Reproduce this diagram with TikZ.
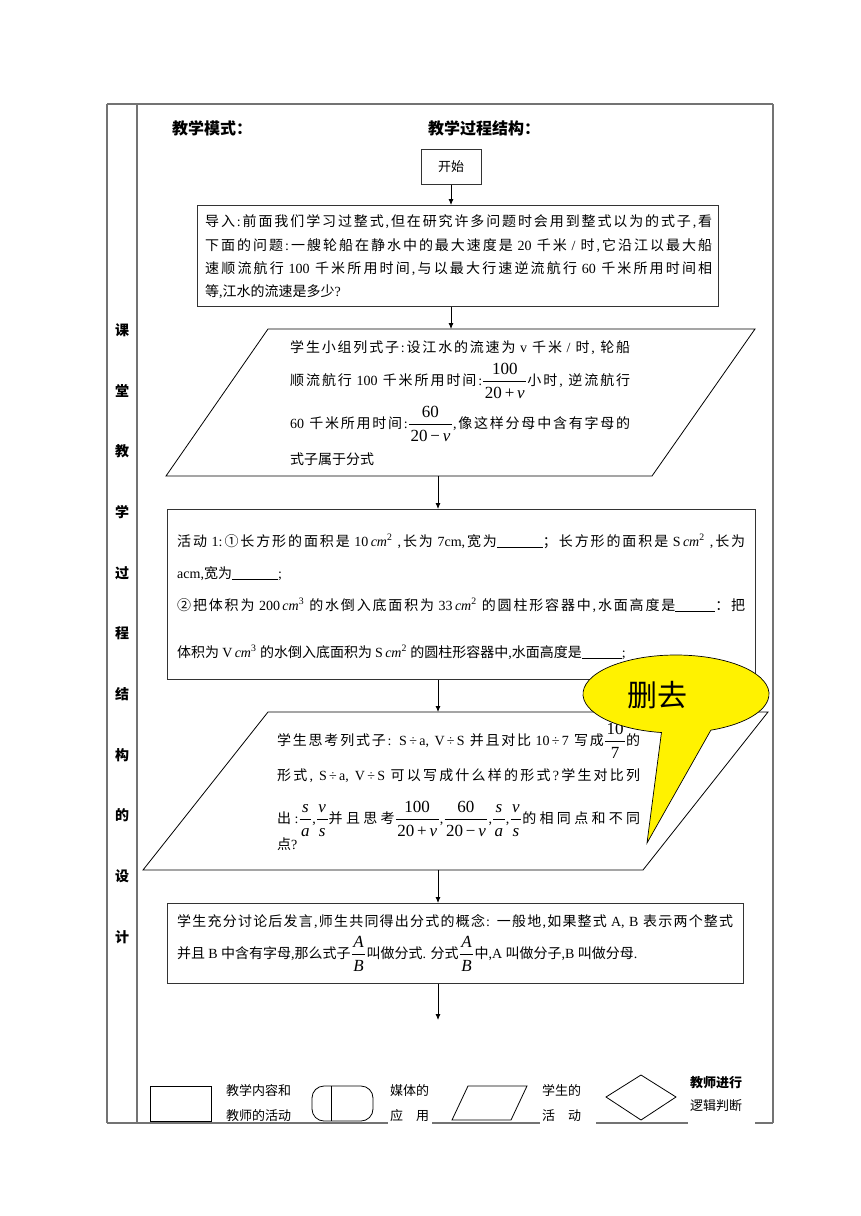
\documentclass[tikz,border=0pt]{standalone}
\usepackage{amsmath}
\usepackage[no-math]{fontspec}
\setmainfont{Liberation Serif}
\newfontfamily\cjkf{Noto Sans CJK SC}
\newfontfamily\latf{Liberation Serif}
\usetikzlibrary{arrows.meta}
% automatic switching between Latin and CJK fonts
\chardef\cjkcls=7
\def\setcls#1#2{\count255=#1 \loop\XeTeXcharclass\count255=\cjkcls\relax\ifnum\count255<#2 \advance\count255 by 1 \repeat}
\setcls{"4E00}{"9FFF}
\setcls{"3000}{"303F}
\setcls{"FF00}{"FFEF}
\setcls{"2460}{"24FF}
\def\cjkgap{\hskip0pt plus 2pt\relax}
\XeTeXinterchartoks 0 \cjkcls = {\cjkgap\cjkf}
\XeTeXinterchartoks 4095 \cjkcls = {\cjkf}
\XeTeXinterchartoks \cjkcls 0 = {\latf\cjkgap}
\XeTeXinterchartoks 4095 0 = {\latf}
\XeTeXinterchartoks \cjkcls \cjkcls = {\cjkgap}
\XeTeXinterchartokenstate=1
\newcommand\jl[2]{\hbox to #1pt{#2}}
\newcommand\blank[1]{\rule[-2pt]{#1pt}{0.6pt}}
\newcommand\frn[1]{\hbox{\kern1.5pt\fontsize{17}{19}\selectfont#1\rule[-5pt]{0pt}{5pt}\kern1.5pt}}
\newcommand\frd[1]{\hbox{\kern1.5pt\fontsize{17}{19}\selectfont#1\rule{0pt}{15pt}\kern1.5pt}}
\newcommand\fr[2]{$\dfrac{\frn{#1}}{\frd{#2}}$}
\newcommand\cmsq[1]{\textit{cm}\textsuperscript{#1}}
\begin{document}
\begin{tikzpicture}[x=1pt,y=-1pt,
  tab/.style={draw=black!55, line width=1.2pt},
  box/.style={draw=black!80, line width=1pt, inner sep=0pt, anchor=north west},
  para/.style={draw=black, line width=0.8pt},
  arr/.style={-{Latex[length=6pt,width=5pt]}, line width=0.8pt},
  txt/.style={anchor=base west, inner sep=0pt, font=\fontsize{14}{16}\selectfont},
  lg/.style={anchor=base west, inner sep=0pt, font=\fontsize{13}{15}\selectfont},
  vt/.style={inner sep=0pt, font=\fontsize{14}{16}\selectfont\bfseries},
  hd/.style={anchor=base west, inner sep=0pt, font=\fontsize{16}{18}\selectfont\bfseries},
]
\fill[white] (0,0) rectangle (860,1216);
\useasboundingbox (0,0) rectangle (860,1216);

% table frame
\draw[tab] (107,104) -- (773,104);
\draw[tab] (107,104) -- (107,1123);
\draw[tab] (137,104) -- (137,1123);
\draw[tab] (773,104) -- (773,1123);
\draw[tab] (107,1123) -- (388,1123);
\draw[tab] (432,1123) -- (540,1123);
\draw[tab] (596,1123) -- (688,1123);
\draw[tab] (755,1123) -- (773,1123);

% vertical title
\foreach \c [count=\i from 0] in {课,堂,教,学,过,程,结,构,的,设,计}
  \node[vt] (v\i) at (122,{330+60.7*\i}) {\c};

% headers
\node[hd] (h1) at (172,134) {教学模式：};
\node[hd] (h2) at (428,134) {教学过程结构：};

% start
\node[draw=black!80, line width=1pt, minimum width=60pt, minimum height=35pt, inner sep=0pt,
      font=\fontsize{13}{15}\selectfont] (start) at (451,166.5) {开始};

% box 1
\node[box, minimum width=521pt, minimum height=101pt] (b1) at (197,205) {};
\node[txt] (t11) at (205,226) {\jl{507}{导入:前面我们学习过整式,但在研究许多问题时会用到整式以为的式子,看}};
\node[txt] (t12) at (205,250) {\jl{507}{下面的问题:一艘轮船在静水中的最大速度是 20 千米 / 时,它沿江以最大船}};
\node[txt] (t13) at (205,273) {\jl{507}{速顺流航行 100 千米所用时间,与以最大行速逆流航行 60 千米所用时间相}};
\node[txt] (t14) at (205,296) {等,江水的流速是多少?};

% parallelogram 1
\draw[para] (268,329) -- (755,329) -- (652,476) -- (166,476) -- cycle;
\coordinate (p1top) at (451,329);
\coordinate (p1bot) at (438,476);
\node[txt] (t21) at (290,352) {\jl{340}{学生小组列式子:设江水的流速为 v 千米 / 时, 轮船}};
\node[txt] (t22) at (290,385) {\jl{340}{顺流航行 100 千米所用时间:\fr{100}{20\,+\,\textit{v}}小时, 逆流航行}};
\node[txt] (t23) at (290,428) {\jl{340}{60 千米所用时间:\fr{60}{20\,−\,\textit{v}},像这样分母中含有字母的}};
\node[txt] (t24) at (290,464) {式子属于分式};

% box 3
\node[box, minimum width=588pt, minimum height=170pt] (b3) at (167,509) {};
\node[txt] (t31) at (177,546) {\jl{568}{活动 1:①长方形的面积是 10\,\cmsq{2} ,长为 7cm,宽为\blank{46}；长方形的面积是 S\,\cmsq{2} ,长为}};
\node[txt] (t32) at (177,578) {acm,宽为\blank{46};};
\node[txt] (t33) at (177,610) {\jl{568}{②把体积为 200\,\cmsq{3} 的水倒入底面积为 33\,\cmsq{2} 的圆柱形容器中,水面高度是\blank{40}：把}};
\node[txt] (t34) at (177,657) {体积为 V\,\cmsq{3} 的水倒入底面积为 S\,\cmsq{2} 的圆柱形容器中,水面高度是\blank{40};};
\coordinate (p2top) at (438,712);
\coordinate (p2bot) at (438,870);

% parallelogram 2
\draw[para] (268,712) -- (768,712) -- (643,870) -- (143,870) -- cycle;
\node[txt] (t41) at (277,745) {\jl{363}{学生思考列式子: S\,÷\,a, V\,÷\,S 并且对比 10\,÷\,7 写成\fr{10}{7}的}};
\node[txt] (t42) at (277,780) {\jl{363}{形式, S\,÷\,a, V\,÷\,S 可以写成什么样的形式?学生对比列}};
\node[txt] (t43) at (277,823) {\jl{363}{出:\fr{\textit{s}}{\textit{a}},\fr{\textit{v}}{\textit{s}}并且思考\fr{100}{20\,+\,\textit{v}},\fr{60}{20\,−\,\textit{v}},\fr{\textit{s}}{\textit{a}},\fr{\textit{v}}{\textit{s}}的相同点和不同}};
\node[txt] (t44) at (277,849) {点?};

% box 5
\node[box, minimum width=576pt, minimum height=80pt] (b5) at (167,903) {};
\node[txt] (t51) at (177,926) {\jl{556}{学生充分讨论后发言,师生共同得出分式的概念: 一般地,如果整式 A, B 表示两个整式}};
\node[txt] (t52) at (177,958) {并且 B 中含有字母,那么式子\fr{\textit{A}}{\textit{B}}叫做分式. 分式\fr{\textit{A}}{\textit{B}}中,A 叫做分子,B 叫做分母.};
\coordinate (endc) at (438,1020);

% connectors
\draw[arr] (start.south) -- (start.south |- b1.north);
\draw[arr] (b1.south -| p1top) -- (p1top);
\draw[arr] (p1bot) -- (p1bot |- b3.north);
\draw[arr] (b3.south -| p2top) -- (p2top);
\draw[arr] (p2bot) -- (p2bot |- b5.north);
\draw[arr] (b5.south -| endc) -- (endc);

% legend
\draw[black, line width=0.8pt] (150,1086) rectangle (211,1121);
\node[lg] (l1a) at (226,1095) {教学内容和};
\node[lg] (l1b) at (226,1120) {教师的活动};
\draw[black, line width=0.8pt, rounded corners=12pt] (312,1086) rectangle (373,1121);
\draw[black, line width=0.8pt] (331,1086) -- (331,1121);
\node[lg] (l2a) at (390,1095) {媒体的};
\node[lg] (l2b) at (390,1120) {应\hspace{13pt}用};
\draw[black, line width=0.8pt] (452,1120) -- (468,1086) -- (527,1086) -- (511,1120) -- cycle;
\node[lg] (l3a) at (542,1095) {学生的};
\node[lg] (l3b) at (542,1120) {活\hspace{13pt}动};
\draw[black, line width=0.8pt] (606,1097) -- (641,1075) -- (676,1097) -- (641,1120) -- cycle;
\node[lg, font=\fontsize{13}{15}\selectfont\bfseries] (l4a) at (690,1087) {教师进行};
\node[lg] (l4b) at (690,1110) {逻辑判断};

% callout
\draw[black, line width=0.7pt, fill=yellow]
  (647,843) -- ([shift={(676,694)}]99:93 and 39)
  arc[start angle=99, end angle=428, x radius=93, y radius=39] -- cycle;
\node[inner sep=0pt, font=\fontsize{30}{32}\selectfont] (del) at (657,695) {删去};
\end{tikzpicture}
\end{document}
